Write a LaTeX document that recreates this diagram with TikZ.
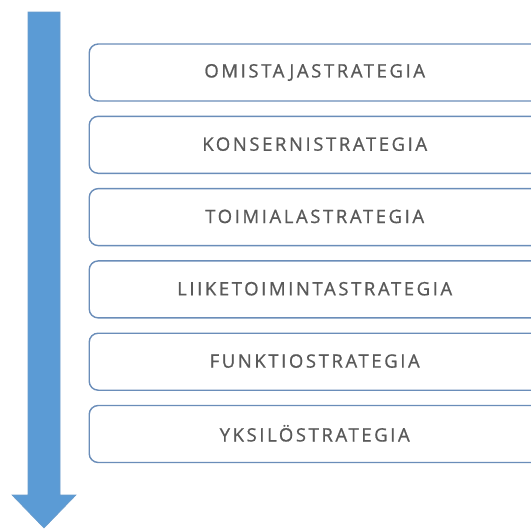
\documentclass[tikz,border=0pt]{standalone}
\usepackage{fontspec}
\newfontfamily\labelfont[LetterSpace=14,FakeBold=0.8]{Open Sans}
\definecolor{arrowblue}{HTML}{5B9BD5}
\definecolor{arrowedge}{HTML}{6A9BCB}
\definecolor{boxedge}{HTML}{6A8DB9}
\definecolor{labelgrey}{HTML}{595959}
\begin{document}
\begin{tikzpicture}[x=1pt,y=-1pt,
  levelbox/.style={draw=boxedge, line width=1.4pt, rounded corners=9pt, fill=white,
    minimum width=451pt, minimum height=57pt, anchor=north west, inner sep=0pt,
    text=labelgrey, font=\labelfont\fontsize{18.5}{21}\selectfont},
  flowarrow/.style={fill=arrowblue, draw=arrowedge, line width=0.6pt}]
\useasboundingbox (0,0) rectangle (531,530);
\clip (0,0) rectangle (531,530);
% downward arrow
\draw[flowarrow] (28,12) -- (60,12) -- (60,495) -- (76,495) -- (44,528)
  -- (12,495) -- (28,495) -- cycle;
% strategy levels, top to bottom
\foreach \name/\txt [count=\i from 0] in {b1/OMISTAJASTRATEGIA, b2/KONSERNISTRATEGIA,
  b3/TOIMIALASTRATEGIA, b4/LIIKETOIMINTASTRATEGIA, b5/FUNKTIOSTRATEGIA, b6/YKSILÖSTRATEGIA}
  \node[levelbox] (\name) at (88.5, 43.3+72.3*\i) {\raisebox{1.5pt}{\txt}};
\end{tikzpicture}
\end{document}
